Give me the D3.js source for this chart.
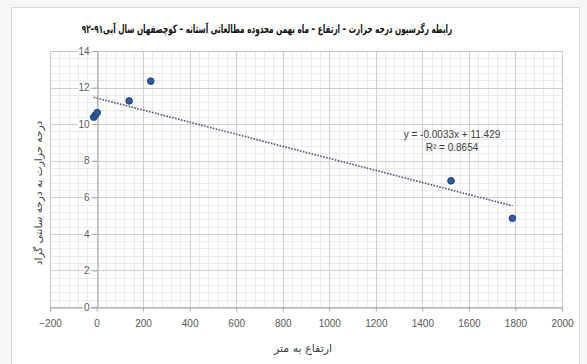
<!DOCTYPE html>
<html><head><meta charset="utf-8">
<script src="https://cdn.jsdelivr.net/npm/d3@7"></script>
<style>body{margin:0;background:#fff;}svg{display:block;}</style>
</head><body>
<script>
const xValues = [-12, -5, 3, 140, 233, 1523, 1787];
const yValues = [10.38, 10.5, 10.63, 11.27, 12.35, 6.9, 4.85];
const xTicks = [-200, 0, 200, 400, 600, 800, 1000, 1200, 1400, 1600, 1800, 2000];
const yTicks = [0, 2, 4, 6, 8, 10, 12, 14];
const trendSlope = -0.0033;
const trendIntercept = 11.429;
const equationLabels = ["y = -0.0033x + 11.429", "R² = 0.8654"];
const titleText = "رابطه رگرسیون درجه حرارت – ارتفاع – ماه بهمن محدوده مطالعاتی آستانه – کوچصفهان سال آبی۹۱–۹۲";
const xTitle = "ارتفاع به متر";
const yTitle = "درجه حرارت به درجه سانتی گراد";

const W = 587, H = 364;
const svg = d3.select("body").append("svg").attr("width", W).attr("height", H);
svg.append("rect").attr("width", W).attr("height", H).attr("fill", "#f7f7f7");
svg.append("rect").attr("x", 11.5).attr("y", 7.5).attr("width", 568).attr("height", 370)
  .attr("fill", "#fff").attr("stroke", "#d9d9d9");

const x = d3.scaleLinear().domain([-200, 2000]).range([50, 562]);
const y = d3.scaleLinear().domain([0, 14]).range([307, 51]);

const g = svg.append("g");
// minor grid
const xMinor = d3.range(-200, 2000.1, 40);
const yMinor = d3.range(0, 14.01, 0.4);
g.selectAll(".xm").data(xMinor).join("line")
  .attr("x1", d => Math.round(x(d)) + 0.5).attr("x2", d => Math.round(x(d)) + 0.5)
  .attr("y1", y(14)).attr("y2", y(0)).attr("stroke", "#ebebeb").attr("stroke-width", 1);
g.selectAll(".ym").data(yMinor).join("line")
  .attr("y1", d => Math.round(y(d)) + 0.5).attr("y2", d => Math.round(y(d)) + 0.5)
  .attr("x1", x(-200)).attr("x2", x(2000)).attr("stroke", "#ebebeb").attr("stroke-width", 1);
// major grid
g.selectAll(".xM").data(xTicks).join("line")
  .attr("x1", d => Math.round(x(d)) + 0.5).attr("x2", d => Math.round(x(d)) + 0.5)
  .attr("y1", y(14)).attr("y2", y(0)).attr("stroke", "#cfcfcf");
g.selectAll(".yM").data(yTicks).join("line")
  .attr("y1", d => Math.round(y(d)) + 0.5).attr("y2", d => Math.round(y(d)) + 0.5)
  .attr("x1", x(-200)).attr("x2", x(2000)).attr("stroke", "#cfcfcf");
// plot border
g.append("rect").attr("x", x(-200) + 0.5).attr("y", y(14) + 0.5)
  .attr("width", x(2000) - x(-200)).attr("height", y(0) - y(14))
  .attr("fill", "none").attr("stroke", "#c8c8c8");

// x axis at y=0
const xAxis = svg.append("g").attr("transform", `translate(0,${Math.round(y(0)) + 0.5})`)
  .call(d3.axisBottom(x).tickValues(xTicks).tickSize(4).tickPadding(8).tickFormat(d3.format("d")));
xAxis.select(".domain").attr("stroke", "#a6a6a6");
xAxis.selectAll(".tick line").attr("stroke", "#a6a6a6");
xAxis.selectAll("text").attr("fill", "#595959").style("font-family", "Liberation Sans, Arial, sans-serif").style("font-size", "10px");

// y axis at x=0
const yAxis = svg.append("g").attr("transform", `translate(${Math.round(x(0)) + 0.5},0)`)
  .call(d3.axisLeft(y).tickValues(yTicks).tickSize(5).tickPadding(3).tickFormat(d3.format("d")));
yAxis.select(".domain").attr("stroke", "#a6a6a6");
yAxis.selectAll(".tick line").attr("stroke", "#a6a6a6");
yAxis.selectAll("text").attr("fill", "#595959")
  .style("font-family", "Liberation Sans, Arial, sans-serif").style("font-size", "10px")
  .attr("stroke", "#fff").attr("stroke-width", 3).attr("paint-order", "stroke");

// trendline
const ext = d3.extent(xValues);
svg.append("line")
  .attr("x1", x(ext[0])).attr("y1", y(trendIntercept + trendSlope * ext[0]))
  .attr("x2", x(ext[1])).attr("y2", y(trendIntercept + trendSlope * ext[1]))
  .attr("stroke", "#4a5670").attr("stroke-width", 1.6).attr("stroke-dasharray", "1.6,1.4");

// points
svg.selectAll(".pt").data(xValues.map((v, i) => [v, yValues[i]])).join("circle")
  .attr("cx", d => x(d[0])).attr("cy", d => y(d[1])).attr("r", 3.3)
  .attr("fill", "#2f5b9c").attr("stroke", "#1f3f74").attr("stroke-width", 1);

// equation
svg.selectAll(".eq").data(equationLabels).join("text")
  .attr("x", 452).attr("y", (d, i) => 138 + i * 13).attr("text-anchor", "middle")
  .attr("fill", "#404040").style("font-family", "Liberation Sans, Arial, sans-serif").style("font-size", "10px")
  .text(d => d);

// title (compressed horizontally to match the narrow original font)
const titleG = svg.append("g");
const title = titleG.append("text").attr("x", 0).attr("y", 0).attr("text-anchor", "middle")
  .style("font-family", "DejaVu Sans, sans-serif").style("font-size", "11.5px").style("font-weight", "bold")
  .attr("fill", "#111").text(titleText);
const tw = title.node().getComputedTextLength();
titleG.attr("transform", `translate(267,33) scale(${371 / tw},1)`);

svg.append("text").attr("x", 303).attr("y", 352).attr("text-anchor", "middle")
  .style("font-family", "DejaVu Sans, sans-serif").style("font-size", "11px")
  .attr("fill", "#404040").text(xTitle);
svg.append("text").attr("transform", "translate(42,193) rotate(-90)").attr("text-anchor", "middle")
  .style("font-family", "DejaVu Sans, sans-serif").style("font-size", "10.5px")
  .attr("fill", "#404040").text(yTitle);
</script>
</body></html>
